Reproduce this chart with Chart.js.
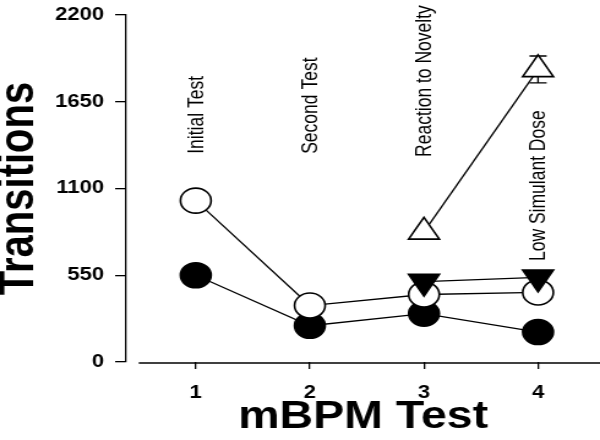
<!DOCTYPE html>
<html>
<head>
<meta charset="utf-8">
<script src="https://cdn.jsdelivr.net/npm/chart.js@4"></script>
<style>
    body { margin: 0; background: #fff; }
</style>
</head>
<body>
<!-- the original figure is stretched sideways, so the canvas is drawn narrow and widened -->
<canvas id="chart" width="490" height="440" style="width: 600px; height: 440px; display: block;"></canvas>
<script>
const testNumbers = [1, 2, 3, 4];
const testNames = ["Initial Test", "Second Test", "Reaction to Novelty", "Low Simulant Dose"];
const nameLevels = [1320, 1320, 1300, 640];

const openCircle = [1023, 358, 428, 441];
const filledCircle = [550, 230, 307, 190];
const filledTriangle = [null, null, 510, 537];
const openTriangle = [null, null, 825, 1855];
const openTriangleErr = [null, null, 0, 85];

const yTicks = [0, 550, 1100, 1650, 2200];

const FONT = '"Liberation Sans", Arial, sans-serif';

function toPoints(values) {
    return testNumbers
        .map((x, i) => ({ x, y: values[i] }))
        .filter(p => p.y !== null);
}

function series(values, fill, style, radius, rotation) {
    return {
        data: toPoints(values),
        borderColor: "#000",
        borderWidth: 1.3,
        pointStyle: style,
        pointRadius: radius,
        pointHoverRadius: radius,
        pointRotation: rotation || 0,
        pointBackgroundColor: fill,
        pointBorderColor: "#000",
        pointBorderWidth: 1.6,
        tension: 0,
        clip: false
    };
}

/* axis line, error bars and the rotated test names */
const extras = {
    id: "extras",
    beforeDatasetsDraw(chart) {
        const { ctx, chartArea, scales: { x, y } } = chart;
        ctx.save();
        ctx.strokeStyle = "#000";
        ctx.lineWidth = 1.3;

        ctx.beginPath();
        ctx.moveTo(x.getPixelForValue(0.5), chartArea.bottom + 1);
        ctx.lineTo(chartArea.right, chartArea.bottom + 1);
        ctx.stroke();

        openTriangleErr.forEach((err, i) => {
            if (!err) return;
            const px = x.getPixelForValue(testNumbers[i]);
            const top = y.getPixelForValue(openTriangle[i] + err);
            const bottom = y.getPixelForValue(openTriangle[i] - err);
            ctx.beginPath();
            ctx.moveTo(px, top);
            ctx.lineTo(px, bottom);
            ctx.moveTo(px - 7, top);
            ctx.lineTo(px + 7, top);
            ctx.moveTo(px - 7, bottom);
            ctx.lineTo(px + 7, bottom);
            ctx.stroke();
        });
        ctx.restore();
    },
    afterDraw(chart) {
        const { ctx, scales: { x, y } } = chart;
        ctx.save();
        ctx.fillStyle = "#000";
        ctx.font = "17.5px " + FONT;
        ctx.textAlign = "left";
        ctx.textBaseline = "middle";
        testNames.forEach((name, i) => {
            ctx.save();
            ctx.translate(x.getPixelForValue(testNumbers[i]) + 1, y.getPixelForValue(nameLevels[i]));
            ctx.rotate(-Math.PI / 2);
            ctx.fillText(name, 0, 0);
            ctx.restore();
        });
        ctx.restore();
    }
};

Chart.defaults.font.family = FONT;
Chart.defaults.color = "#000";

new Chart(document.getElementById("chart"), {
    type: "line",
    data: {
        datasets: [
            series(openTriangle, "#fff", "triangle", 14.5),
            series(filledTriangle, "#000", "triangle", 14.5, 180),
            series(openCircle, "#fff", "circle", 12.5),
            series(filledCircle, "#000", "circle", 12.5)
        ]
    },
    options: {
        responsive: false,
        devicePixelRatio: 1,
        animation: false,
        events: [],
        layout: { autoPadding: false, padding: { top: 15, right: 0, bottom: 0, left: -7 } },
        plugins: {
            legend: { display: false },
            tooltip: { enabled: false }
        },
        scales: {
            x: {
                type: "linear",
                min: 0.39,
                max: 4.543,
                afterBuildTicks: s => { s.ticks = testNumbers.map(v => ({ value: v })); },
                border: { display: false },
                grid: { drawOnChartArea: false, tickLength: 7, color: "#000", lineWidth: 1.3 },
                ticks: { padding: 13, maxRotation: 0, font: { size: 18, weight: "bold" } },
                title: {
                    display: true,
                    text: "mBPM Test",
                    font: { size: 38, weight: "bold", lineHeight: 0.8 },
                    padding: { top: -14, bottom: 7 }
                }
            },
            y: {
                min: 0,
                max: 2200,
                afterBuildTicks: s => { s.ticks = yTicks.map(v => ({ value: v })); },
                // let the top of the axis sit at the layout padding, not below the label
                afterFit: s => { s.paddingTop = 0; s.paddingBottom = 0; },
                border: { display: true, color: "#000", width: 1.3 },
                grid: { drawOnChartArea: false, tickLength: 9, color: "#000", lineWidth: 1.3 },
                ticks: { padding: 9, font: { size: 18, weight: "bold" }, callback: v => String(v) },
                title: {
                    display: true,
                    text: "Transitions",
                    font: { size: 40, weight: "bold", lineHeight: 1 },
                    padding: { top: 3, bottom: 0 }
                }
            }
        }
    },
    plugins: [extras]
});
</script>
</body>
</html>
